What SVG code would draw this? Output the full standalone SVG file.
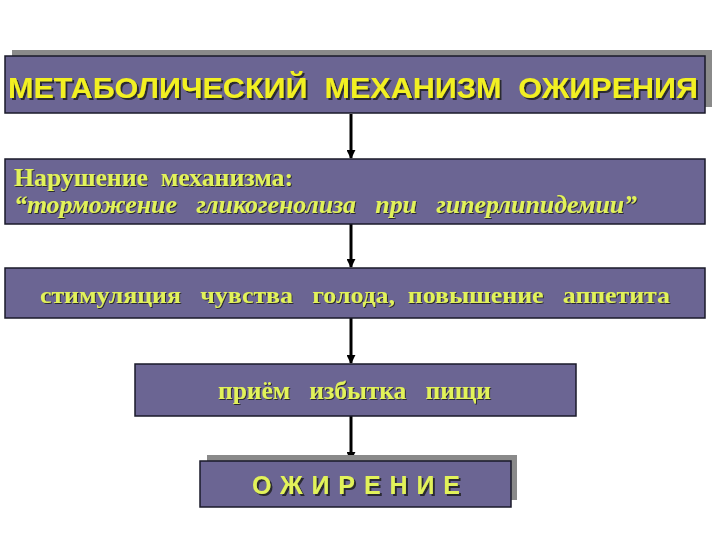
<svg xmlns="http://www.w3.org/2000/svg" width="720" height="540" viewBox="0 0 720 540">
<style>
.box{fill:#6b6593;stroke:#1a1a2a;stroke-width:1.5}
.shadow{fill:#8a8a8a}
.title{font-family:"Liberation Sans","DejaVu Sans",sans-serif;font-weight:bold;fill:#f2f021;filter:url(#ts2)}
.serif{font-family:"Liberation Serif","DejaVu Serif",serif;font-weight:bold;fill:#e2f25a;filter:url(#ts1)}
.conn{stroke:#000;stroke-width:3}
</style>
<defs>
<filter id="ts2" x="-5%" y="-20%" width="110%" height="140%">
<feDropShadow dx="2" dy="2" stdDeviation="0.3" flood-color="#2a2a30" flood-opacity="1"/>
</filter>
<filter id="ts1" x="-5%" y="-20%" width="110%" height="140%">
<feDropShadow dx="1" dy="1" stdDeviation="0.3" flood-color="#2a2a30" flood-opacity="1"/>
</filter>
<marker id="ah" viewBox="0 0 10 10" refX="9" refY="5" markerWidth="3" markerHeight="3" orient="auto" markerUnits="strokeWidth">
<path d="M0,0 L10,5 L0,10 z" fill="#000"/>
</marker>
</defs>
<rect width="720" height="540" fill="#fff"/>
<g id="connectors">
<line class="conn" x1="351" y1="114" x2="351" y2="158" marker-end="url(#ah)"/>
<line class="conn" x1="351" y1="224" x2="351" y2="267" marker-end="url(#ah)"/>
<line class="conn" x1="351" y1="318" x2="351" y2="363" marker-end="url(#ah)"/>
<line class="conn" x1="351" y1="416" x2="351" y2="460" marker-end="url(#ah)"/>
</g>
<g id="node-title">
<rect class="shadow" x="12" y="50" width="700" height="57"/>
<rect class="box" x="5" y="56" width="700" height="57"/>
<text class="title" x="8" y="98" font-size="30" textLength="690" lengthAdjust="spacingAndGlyphs" xml:space="preserve">МЕТАБОЛИЧЕСКИЙ  МЕХАНИЗМ  ОЖИРЕНИЯ</text>
</g>
<g id="node-disorder">
<rect class="box" x="5" y="159" width="700" height="65"/>
<text class="serif" x="14" y="186" font-size="25" textLength="279" lengthAdjust="spacingAndGlyphs" xml:space="preserve">Нарушение  механизма:</text>
<text class="serif" x="14" y="213" font-size="25" font-style="italic" textLength="623" lengthAdjust="spacingAndGlyphs" xml:space="preserve">“торможение   гликогенолиза   при   гиперлипидемии”</text>
</g>
<g id="node-hunger">
<rect class="box" x="5" y="268" width="700" height="50"/>
<text class="serif" x="40" y="303" font-size="24" textLength="630" lengthAdjust="spacingAndGlyphs" xml:space="preserve">стимуляция   чувства   голода,  повышение   аппетита</text>
</g>
<g id="node-food">
<rect class="box" x="135" y="364" width="441" height="52"/>
<text class="serif" x="218" y="399" font-size="25" textLength="273" lengthAdjust="spacingAndGlyphs" xml:space="preserve">приём   избытка   пищи</text>
</g>
<g id="node-obesity">
<rect class="shadow" x="207" y="455" width="310" height="45"/>
<rect class="box" x="200" y="461" width="311" height="46"/>
<text class="title" x="252" y="494" font-size="25" textLength="208" lengthAdjust="spacing" style="fill:#e2f25a">ОЖИРЕНИЕ</text>
</g>
</svg>
